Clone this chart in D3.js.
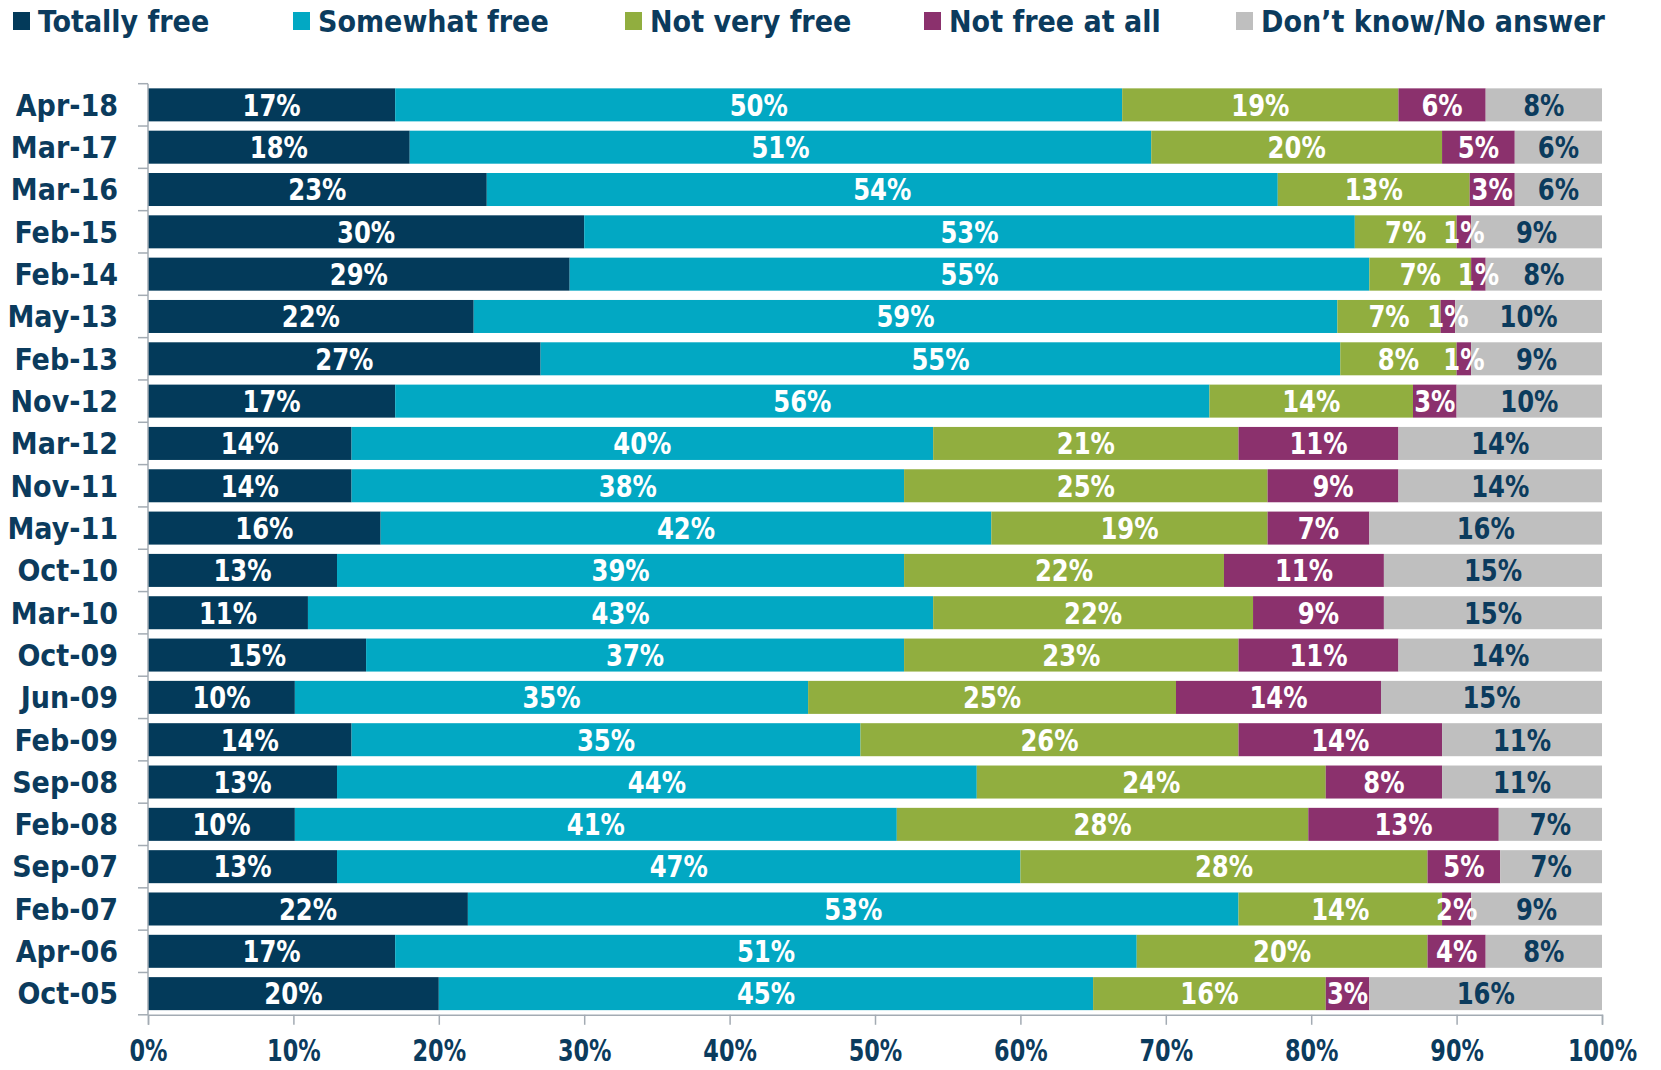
<!DOCTYPE html>
<html>
<head>
<meta charset="utf-8">
<script src="https://cdn.jsdelivr.net/npm/d3@7"></script>
<style>
  html, body { margin: 0; padding: 0; background: #ffffff; }
  svg { display: block; }
</style>
</head>
<body>
<svg id="chart" width="1661" height="1070"></svg>
<script>
// ---------- DATA ----------
const categories = ["Apr-18","Mar-17","Mar-16","Feb-15","Feb-14","May-13","Feb-13","Nov-12","Mar-12","Nov-11","May-11","Oct-10","Mar-10","Oct-09","Jun-09","Feb-09","Sep-08","Feb-08","Sep-07","Feb-07","Apr-06","Oct-05"];
const seriesNames = ["Totally free","Somewhat free","Not very free","Not free at all","Don\u2019t know/No answer"];
const totallyFree  = [17,18,23.3,30,29,22.4,27,17,14,14,16,13,11,15,10.1,14,13,10.1,13,22,17,20];
const somewhatFree = [50,51,54.4,53,55,59.4,55,56,40,38,42,39,43,37,35.3,35,44,41.4,47,53,51,45];
const notVeryFree  = [19,20,13.2,7,7,7.1,8,14,21,25,19,22,22,23,25.3,26,24,28.3,28,14,20,16];
const notFreeAtAll = [6,5,3.1,1,1,1.0,1,3,11,9,7,11,9,11,14.1,14,8,13.1,5,2,4,3];
const dontKnow     = [8,6,6.0,9,8,10.1,9,10,14,14,16,15,15,14,15.2,11,11,7.1,7,9,8,16];
const xTicks = [0,10,20,30,40,50,60,70,80,90,100];

// ---------- STYLE ----------
const colors = ["#033a5a","#02a8c3","#91ae3f","#8b316d","#bfbfbf"];
const labelColors = ["#ffffff","#ffffff","#ffffff","#ffffff","#0b3b5d"];
const navy = "#0b3b5d";
const axisColor = "#a3abb3";
const textFont = "'DejaVu Sans Condensed','DejaVu Sans',sans-serif";

const seriesValues = [totallyFree, somewhatFree, notVeryFree, notFreeAtAll, dontKnow];
const table = categories.map((c, i) => {
  const row = { category: c };
  seriesNames.forEach((s, k) => row[s] = seriesValues[k][i]);
  return row;
});
const stacked = d3.stack().keys(seriesNames)(table);

const svg = d3.select("#chart");
const x = d3.scaleLinear().domain([0, 100]).range([148, 1602]);
const y = d3.scaleBand().domain(categories).range([83.7, 1014.8]).paddingInner(0.22).paddingOuter(0.11);

// bars
const layers = svg.append("g").selectAll("g").data(stacked).join("g")
  .attr("fill", (d, k) => colors[k]);
layers.selectAll("rect").data(d => d).join("rect")
  .attr("x", d => x(d[0]))
  .attr("y", d => y(d.data.category))
  .attr("width", d => x(d[1]) - x(d[0]))
  .attr("height", y.bandwidth());

// value labels (horizontally condensed to mimic the narrow original face)
const labelLayers = svg.append("g").selectAll("g").data(stacked).join("g")
  .attr("fill", (d, k) => labelColors[k]);
labelLayers.selectAll("text").data(d => d).join("text")
  .attr("transform", d => `translate(${(x(d[0]) + x(d[1])) / 2},${y(d.data.category) + y.bandwidth() / 2}) scale(0.9,1)`)
  .attr("dy", "0.36em")
  .attr("text-anchor", "middle")
  .attr("font-family", textFont)
  .attr("font-weight", "bold")
  .attr("font-size", 30)
  .text(d => Math.round(d[1] - d[0]) + "%");

// y axis
const yAxisG = svg.append("g");
yAxisG.append("line")
  .attr("x1", x(0)).attr("x2", x(0))
  .attr("y1", y.range()[0]).attr("y2", y.range()[1])
  .attr("stroke", axisColor).attr("stroke-width", 1.5);
const boundaries = categories.map(c => y(c) - y.step() * y.paddingInner() / 2).concat([y.range()[1]]);
yAxisG.selectAll("line.tk").data(boundaries).join("line").attr("class", "tk")
  .attr("x1", x(0) - 10).attr("x2", x(0))
  .attr("y1", d => d).attr("y2", d => d)
  .attr("stroke", axisColor).attr("stroke-width", 1.5);
yAxisG.selectAll("text").data(categories).join("text")
  .attr("x", 118)
  .attr("y", d => y(d) + y.bandwidth() / 2)
  .attr("dy", "0.36em")
  .attr("text-anchor", "end")
  .attr("font-family", textFont)
  .attr("font-weight", "bold")
  .attr("font-size", 30)
  .attr("fill", navy)
  .text(d => d);

// x axis
const xAxis = d3.axisBottom(x).tickValues(xTicks).tickSize(10).tickFormat(d => d + "%");
const xAxisG = svg.append("g").attr("transform", `translate(0,${y.range()[1]})`).call(xAxis);
xAxisG.select(".domain").attr("stroke", axisColor).attr("stroke-width", 1.5);
xAxisG.selectAll(".tick line").attr("stroke", axisColor).attr("stroke-width", 1.5);
xAxisG.selectAll(".tick text")
  .attr("y", 1061 - y.range()[1])
  .attr("dy", 0)
  .attr("transform", "scale(0.83,1)")
  .attr("font-family", textFont)
  .attr("font-weight", "bold")
  .attr("font-size", 30)
  .attr("fill", navy);

// legend
const legendX = [13, 293, 625, 924, 1236];
const legend = svg.append("g").selectAll("g").data(seriesNames).join("g")
  .attr("transform", (d, k) => `translate(${legendX[k]},0)`);
legend.append("rect")
  .attr("x", 0).attr("y", 12).attr("width", 17).attr("height", 18)
  .attr("fill", (d, k) => colors[k]);
legend.append("text")
  .attr("x", 25).attr("y", 21).attr("dy", "0.36em")
  .attr("font-family", textFont)
  .attr("font-weight", "bold")
  .attr("font-size", 30)
  .attr("fill", navy)
  .text(d => d);
</script>
</body>
</html>
